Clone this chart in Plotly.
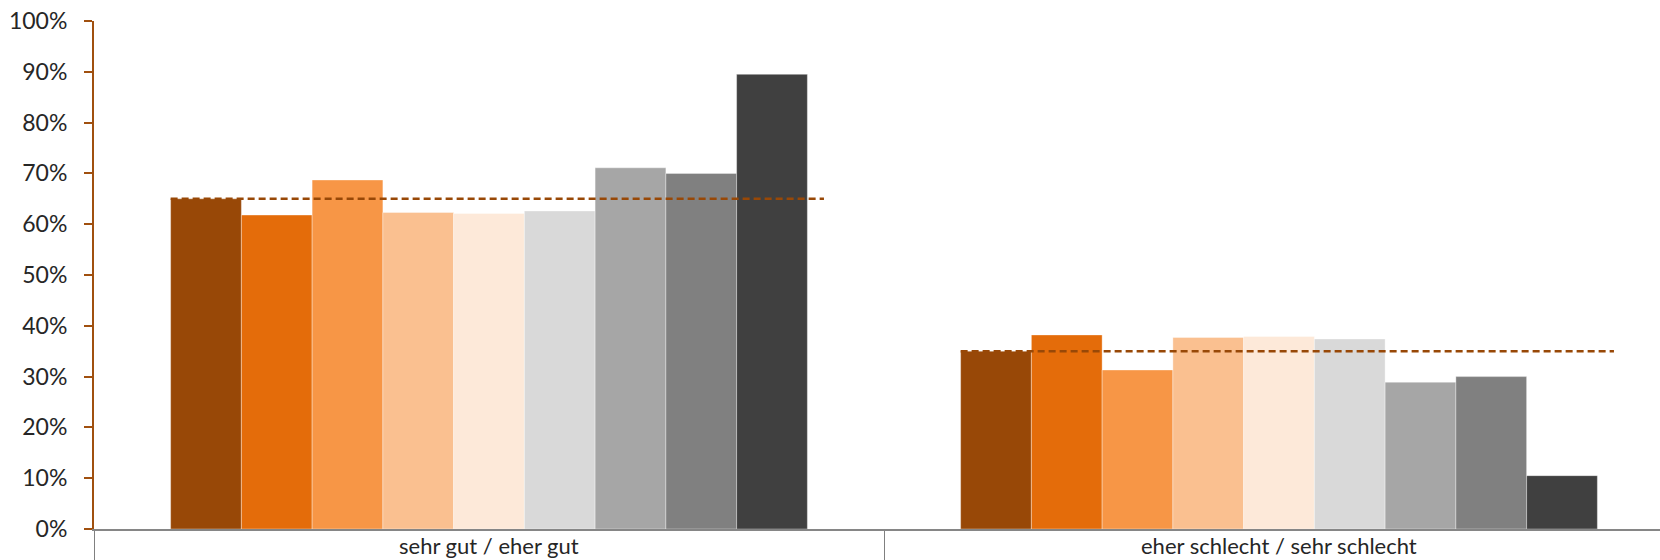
import plotly.graph_objects as go

# Response categories (x axis)
categories = ["sehr gut / eher gut", "eher schlecht / sehr schlecht"]

# Share of answers per group, in percent (one list per group)
group_1 = [65.0, 35.0]
group_2 = [61.8, 38.2]
group_3 = [68.7, 31.3]
group_4 = [62.3, 37.7]
group_5 = [62.1, 37.9]
group_6 = [62.6, 37.4]
group_7 = [71.1, 28.9]
group_8 = [70.0, 30.0]
group_9 = [89.5, 10.5]

# Overall average per category (dashed reference line)
average = [65.0, 35.0]

y_ticks = [0, 10, 20, 30, 40, 50, 60, 70, 80, 90, 100]
y_tick_labels = [f"{v}%" for v in y_ticks]

series = [group_1, group_2, group_3, group_4, group_5,
          group_6, group_7, group_8, group_9]
colors = ["#984807", "#E46C0A", "#F79646", "#FAC090", "#FDE9D9",
          "#D9D9D9", "#A6A6A6", "#808080", "#404040"]

x_pos = list(range(len(categories)))

fig = go.Figure()
for vals, col in zip(series, colors):
    fig.add_trace(go.Bar(
        x=x_pos, y=vals,
        marker=dict(color=col, line=dict(color="rgba(255,255,255,0.35)", width=1)),
        showlegend=False, hoverinfo="y",
    ))

# Dashed average line spanning each bar group
for xi, avg in zip(x_pos, average):
    fig.add_trace(go.Scatter(
        x=[xi - 0.403, xi + 0.424], y=[avg, avg],
        mode="lines",
        line=dict(color="#984807", width=2.5, dash="7px,4px"),
        showlegend=False, hoverinfo="skip",
    ))

# Category labels beneath the axis
for xi, cat in zip(x_pos, categories):
    fig.add_annotation(
        x=xi, y=0, xref="x", yref="y", yshift=-16,
        text=cat, showarrow=False,
        font=dict(family="Lato", size=22, color="#262626"),
    )

fig.update_layout(
    width=1660, height=560,
    margin=dict(l=94, r=0, t=21, b=31),
    paper_bgcolor="white", plot_bgcolor="white",
    barmode="group", bargap=0.194, bargroupgap=0,
    font=dict(family="Lato", size=20, color="#262626"),
    xaxis=dict(
        range=[-0.5, -0.5 + 1566 / 790],
        tickvals=[-0.5, 0.5, 1.5], ticktext=["", "", ""],
        ticks="outside", ticklen=31, tickwidth=1, tickcolor="#808080",
        showline=True, linecolor="#868686", linewidth=2,
        showgrid=False, zeroline=False, fixedrange=True,
    ),
    yaxis=dict(
        range=[0, 100],
        tickvals=y_ticks, ticktext=y_tick_labels,
        ticks="outside", ticklen=8, tickwidth=2, tickcolor="#A0500F",
        showline=True, linecolor="#A0500F", linewidth=2,
        showgrid=False, zeroline=False,
        ticklabelstandoff=12,
        tickfont=dict(family="Lato", size=23, color="#262626"),
    ),
)

fig.write_html("out.html")
